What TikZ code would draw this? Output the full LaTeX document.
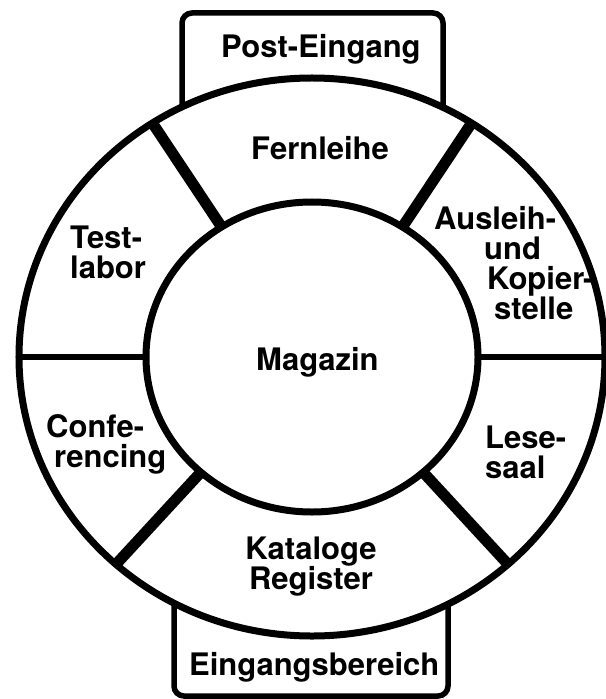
\documentclass[tikz,border=0pt]{standalone}
\usepackage{fontspec}
\setmainfont{TeX Gyre Heros}
\begin{document}
\begin{tikzpicture}[x=1bp,y=-1bp,
  lbl/.style={font=\fontsize{31bp}{30bp}\selectfont\bfseries, inner sep=0pt, anchor=north west, align=left},
  boxst/.style={draw, line width=5.5bp, rounded corners=10bp, fill=white},
  ring/.style={draw, line width=7bp, fill=white},
  thickdiv/.style={line width=11bp},
  thindiv/.style={line width=6.5bp}]
\useasboundingbox (0,0) rectangle (606,699);
\coordinate (c) at (312,357);
% boxes
\draw[boxst] (182,13) rectangle (443,220);
\draw[boxst] (174,696) rectangle (448,500);
% outer ring
\draw[ring] (c) ellipse [x radius=293bp, y radius=279bp];
% divider end points
\foreach \a/\n in {57/a,123/b,228/c,312/d,0/e,180/f}{
  \path (c) ++(\a:166bp and 155bp) coordinate (i\n);
  \path (c) ++(\a:293bp and 279bp) coordinate (o\n);
}
\draw[thickdiv] (ia) -- (oa);
\draw[thickdiv] (ib) -- (ob);
\draw[thickdiv] (ic) -- (oc);
\draw[thickdiv] (id) -- (od);
\draw[thindiv] (ie) -- (oe);
\draw[thindiv] (if) -- (of);
% inner circle
\draw[ring] (c) ellipse [x radius=166bp, y radius=155bp];
% labels
\node[lbl] (post) at (221,34) {Post-Eingang};
\node[lbl] (fern) at (251,136) {Fernleihe};
\node[lbl] (test) at (70,226) {Test-\\labor};
\node[lbl] (conf) at (46,414) {Confe-\\\hspace*{8bp}rencing};
\node[lbl] (ausl) at (434,206) {Ausleih-\\\hspace*{50bp}und\\\hspace*{53bp}Kopier-\\\hspace*{60bp}stelle};
\node[lbl] (lese) at (485,426) {Lese-\\saal};
\node[lbl] (mag) at (256,347) {Magazin};
\node[lbl, anchor=north, align=center] (kat) at (311,537) {Kataloge\\Register};
\node[lbl] (eing) at (189,652) {Eingangsbereich};
\end{tikzpicture}
\end{document}
